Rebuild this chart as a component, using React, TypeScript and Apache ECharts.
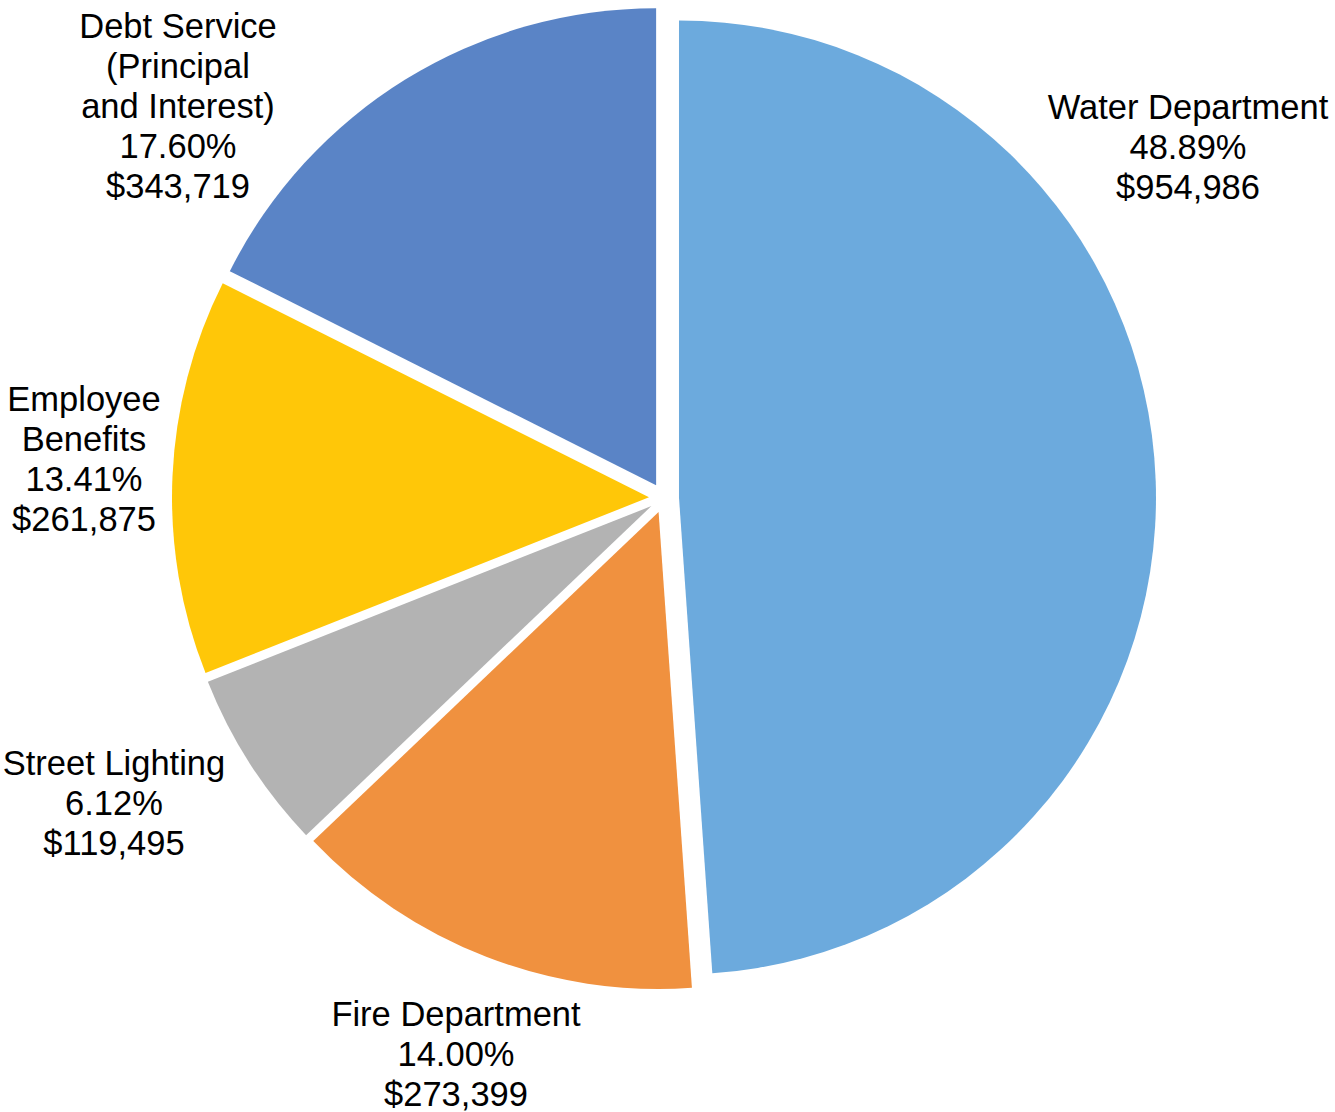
import React, { useEffect, useRef } from "react";
import * as echarts from "echarts";

const categories = [
  "Water Department",
  "Fire Department",
  "Street Lighting",
  "Employee Benefits",
  "Debt Service (Principal and Interest)",
];
const labelNames = [
  "Water Department",
  "Fire Department",
  "Street Lighting",
  "Employee\nBenefits",
  "Debt Service\n(Principal\nand Interest)",
];
const amounts = [954986, 273399, 119495, 261875, 343719];
const colors = ["#6CAADD", "#F0913F", "#B3B3B3", "#FFC708", "#5A84C6"];
// label block centres (layout only)
const labelPos: [number, number][] = [
  [1188, 147],
  [456, 1054],
  [114, 803],
  [84, 459],
  [178, 106],
];

export default function App() {
  const ref = useRef<HTMLDivElement>(null);
  useEffect(() => {
    document.body.style.margin = "0";
    const chart = echarts.init(ref.current!, null, { renderer: "svg" });
    const total = amounts.reduce((a, b) => a + b, 0);
    const labelText = (i: number) => {
      const pct = ((amounts[i] / total) * 100).toFixed(2) + "%";
      return `${labelNames[i]}\n${pct}\n$${amounts[i].toLocaleString("en-US")}`;
    };
    chart.setOption({
      animation: false,
      backgroundColor: "#ffffff",
      graphic: amounts.map((_, i) => ({
        type: "text",
        x: labelPos[i][0],
        y: labelPos[i][1],
        z: 10,
        style: {
          text: labelText(i),
          fill: "#000",
          fontFamily: "Liberation Sans, Arial, sans-serif",
          fontSize: 34.5,
          lineHeight: 40,
          align: "center",
          verticalAlign: "middle",
        },
      })),
      series: [
        {
          type: "pie",
          center: [664, 498],
          radius: 477,
          startAngle: 90,
          clockwise: true,
          selectedMode: "multiple",
          selectedOffset: 15,
          emphasis: { disabled: true },
          itemStyle: { borderWidth: 0 },
          labelLine: { show: false },
          label: { show: false },
          data: categories.map((c, i) => ({
            name: c,
            value: amounts[i],
            selected: true,
            itemStyle: { color: colors[i] },
          })),
        },
      ],
    });
    return () => chart.dispose();
  }, []);
  return <div ref={ref} style={{ width: 1335, height: 1112 }} />;
}
